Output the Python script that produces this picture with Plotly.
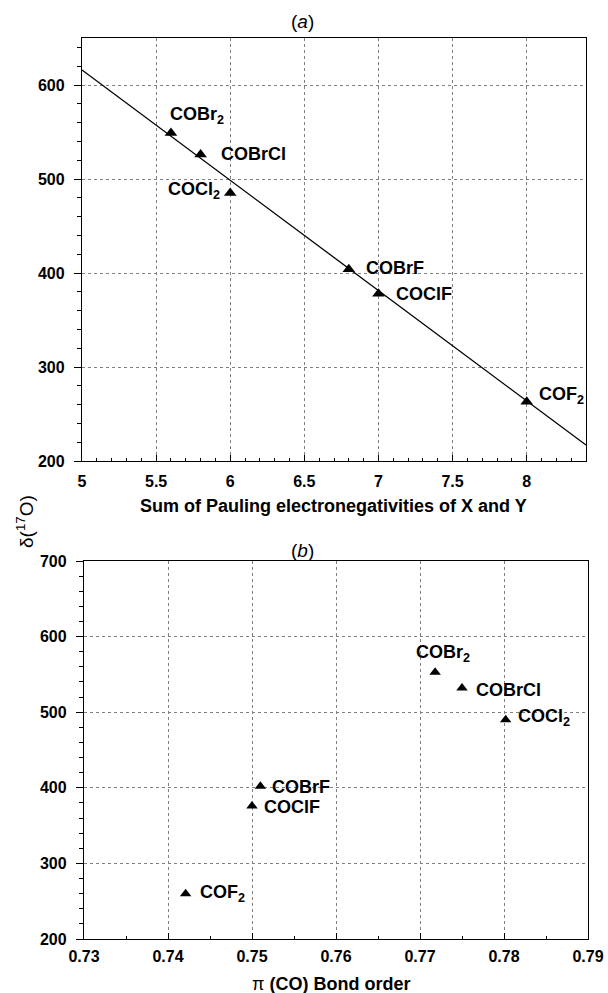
import plotly.graph_objects as go

# Panel (a)
names = ["COBr<sub>2</sub>", "COBrCl", "COCl<sub>2</sub>", "COBrF", "COClF", "COF<sub>2</sub>"]
en_sum = [5.6, 5.8, 6.0, 6.8, 7.0, 8.0]
shift_a = [549, 526, 485, 404, 378, 263]
fit_x = [5.0, 8.4]
fit_y = [616, 217]

# Panel (b)
bond_order = [0.7718, 0.7750, 0.7802, 0.7510, 0.7500, 0.7421]
shift_b = [553, 532, 490, 402, 376, 260]

W, H = 608, 993
def px(v):
    return v / W
def py(v):
    return 1 - v / H

FONT = "Liberation Sans, Arial, sans-serif"
LBL = dict(family=FONT, size=18, color="black", weight="bold")

fig = go.Figure()
fig.add_trace(go.Scatter(x=fit_x, y=fit_y, mode="lines", line=dict(color="black", width=1.3),
                         xaxis="x", yaxis="y", showlegend=False, hoverinfo="skip"))
fig.add_trace(go.Scatter(x=en_sum, y=shift_a, mode="markers",
                         marker=dict(symbol="triangle-up", size=11, color="black"),
                         xaxis="x", yaxis="y", showlegend=False))
fig.add_trace(go.Scatter(x=bond_order, y=shift_b, mode="markers",
                         marker=dict(symbol="triangle-up", size=10, color="black"),
                         xaxis="x2", yaxis="y2", showlegend=False))

# label offsets (pixels) relative to markers: (xanchor, xshift, yshift)
offs_a = [("left", -3, 17), ("left", 18, 1), ("right", -8, 3), ("left", 15, 1), ("left", 16, 0), ("left", 10, 6)]
offs_b = [("left", -21, 19), ("left", 12, -2), ("left", 10, 2), ("left", 10, -1), ("left", 10, -1), ("left", 12, 0)]

for n, xv, yv, (xa, xs, ys) in zip(names, en_sum, shift_a, offs_a):
    fig.add_annotation(x=xv, y=yv, xref="x", yref="y", text=n, showarrow=False,
                       xanchor=xa, yanchor="middle", xshift=xs, yshift=ys, font=LBL)
for n, xv, yv, (xa, xs, ys) in zip(names, bond_order, shift_b, offs_b):
    fig.add_annotation(x=xv, y=yv, xref="x2", yref="y2", text=n, showarrow=False,
                       xanchor=xa, yanchor="middle", xshift=xs, yshift=ys, font=LBL)

def paper_text(x, y, text, font, angle=0):
    fig.add_annotation(x=px(x), y=py(y), xref="paper", yref="paper", text=text,
                       xanchor="center", yanchor="middle", textangle=angle,
                       showarrow=False, font=font)

TITLE = dict(family=FONT, size=19, color="black")
paper_text(302, 22, "(<i>a</i>)", TITLE)
paper_text(302, 550, "(<i>b</i>)", TITLE)
paper_text(25, 522, "δ(<sup>17</sup>O)", TITLE, angle=-90)
paper_text(333, 506, "Sum of Pauling electronegativities of X and Y", LBL)
paper_text(331, 984, "<span style='font-weight:normal'>π</span> (CO) Bond order", LBL)

common = dict(showline=True, linecolor="black", linewidth=1.3, mirror=True,
              showgrid=True, gridcolor="#808080", griddash="dot", gridwidth=1,
              zeroline=False, tickcolor="black", automargin=False,
              tickfont=dict(family=FONT, size=16, color="black", weight="bold"))
xcommon = dict(ticks="inside", ticklen=6, **common)
ycommon = dict(ticks="outside", ticklen=7, ticklabelstandoff=6, **common)

fig.update_layout(
    width=W, height=H,
    margin=dict(l=0, r=0, t=0, b=0),
    paper_bgcolor="white", plot_bgcolor="white",
    showlegend=False,
    xaxis=dict(domain=[px(82), px(586)], range=[5, 8.4], anchor="y",
               tickvals=[5, 5.5, 6, 6.5, 7, 7.5, 8], ticklabelstandoff=6,
               minor=dict(dtick=0.1, ticks="inside", ticklen=3, tickcolor="black", showgrid=False),
               **xcommon),
    yaxis=dict(domain=[py(461), py(38)], range=[200, 650], anchor="x",
               tickvals=[200, 300, 400, 500, 600],
               minor=dict(dtick=20, ticks="outside", ticklen=4, tickcolor="black", showgrid=False),
               **ycommon),
    xaxis2=dict(domain=[px(84), px(588)], range=[0.73, 0.79], anchor="y2",
                tickvals=[0.73, 0.74, 0.75, 0.76, 0.77, 0.78, 0.79], ticklabelstandoff=3,
                minor=dict(dtick=0.005, ticks="inside", ticklen=3, tickcolor="black", showgrid=False),
                **xcommon),
    yaxis2=dict(domain=[py(939), py(561)], range=[200, 700], anchor="x2",
                tickvals=[200, 300, 400, 500, 600, 700],
                minor=dict(dtick=20, ticks="outside", ticklen=4, tickcolor="black", showgrid=False),
                **ycommon),
)

fig.write_html("out.html", config={"displayModeBar": False},
               post_script="document.body.style.margin='0';document.body.style.overflow='hidden';")
